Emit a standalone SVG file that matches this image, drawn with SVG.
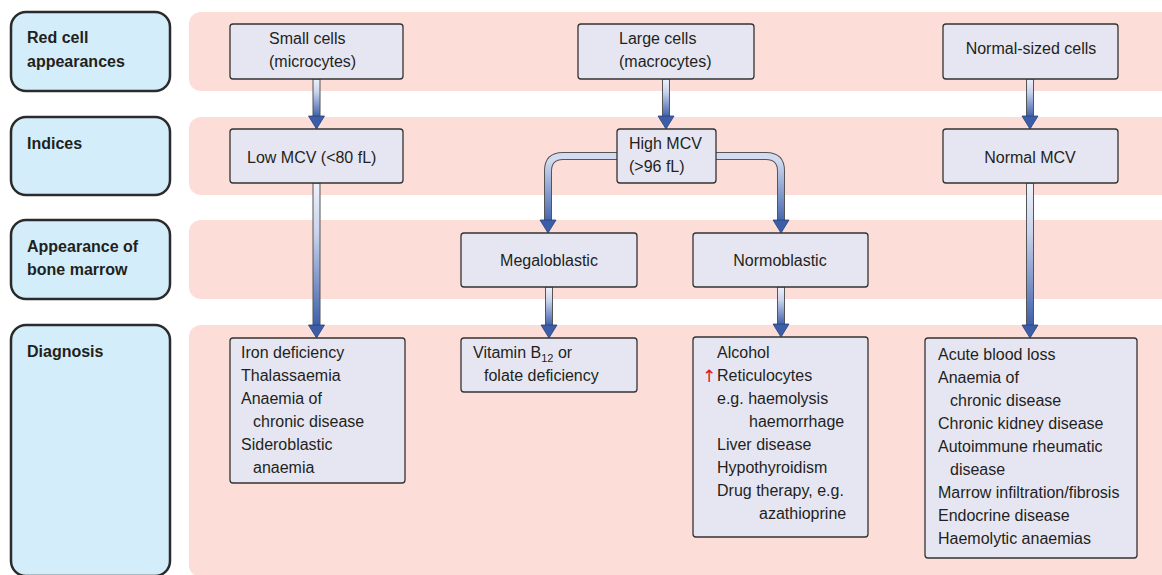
<svg xmlns="http://www.w3.org/2000/svg" xmlns:xlink="http://www.w3.org/1999/xlink" width="1162" height="575" viewBox="0 0 1162 575">
<style>
.lbl{fill:#d3eefa;stroke:#2b2b2b;stroke-width:2.5}
.band{fill:#fcddd8}
.node{fill:#e6e6f3;stroke:#333;stroke-width:1.3}
text{font-family:"Liberation Sans",Arial,sans-serif;font-size:16px;fill:#231f20}
.b{font-weight:bold}
.c{text-anchor:middle}
.shaft{fill:url(#gv);stroke:#555;stroke-width:1}
.head{fill:#3c5ea9;stroke:#27407a;stroke-width:0.8}
</style>
<defs>
<linearGradient id="gv" x1="0" y1="0" x2="0" y2="1">
<stop offset="0" stop-color="#eef1fa"/>
<stop offset="0.35" stop-color="#c9d3ec"/>
<stop offset="1" stop-color="#3c5ea9"/>
</linearGradient>
<linearGradient id="gb" gradientUnits="userSpaceOnUse" x1="0" y1="160" x2="0" y2="225">
<stop offset="0" stop-color="#d2dbf0"/>
<stop offset="1" stop-color="#3c5ea9"/>
</linearGradient>
<path id="hd" class="head" d="M-8,-13 L8,-13 L0,0 Z"/>
</defs>

<g id="bands">
<rect class="band" x="189" y="12" width="990" height="79" rx="12"/>
<rect class="band" x="189" y="117" width="990" height="78" rx="12"/>
<rect class="band" x="189" y="220" width="990" height="79" rx="12"/>
<rect class="band" x="189" y="325" width="990" height="252" rx="12"/>
</g>

<g id="label-red-cell"><rect class="lbl" x="11" y="12" width="159" height="79" rx="15"/><text class="b" x="27" y="43">Red cell</text><text class="b" x="27" y="67">appearances</text></g>
<g id="label-indices"><rect class="lbl" x="11" y="117" width="159" height="78" rx="15"/><text class="b" x="27" y="149">Indices</text></g>
<g id="label-marrow"><rect class="lbl" x="11" y="220" width="159" height="79" rx="15"/><text class="b" x="27" y="252">Appearance of</text><text class="b" x="27" y="275">bone marrow</text></g>
<g id="label-diagnosis"><rect class="lbl" x="11" y="325" width="159" height="251" rx="15"/><text class="b" x="27" y="357">Diagnosis</text></g>

<g id="connectors">
<rect class="shaft" x="313" y="79" width="7" height="38"/><use xlink:href="#hd" x="316.5" y="129"/>
<rect class="shaft" x="313" y="183" width="7" height="143"/><use xlink:href="#hd" x="316.5" y="338"/>
<rect class="shaft" x="662.5" y="79" width="7" height="38"/><use xlink:href="#hd" x="666" y="129"/>
<path d="M617,156 H563 Q548,156 548,171 V222" fill="none" stroke="#555" stroke-width="8"/>
<path d="M617,156 H563 Q548,156 548,171 V222" fill="none" stroke="url(#gb)" stroke-width="6"/>
<use xlink:href="#hd" x="548" y="233"/>
<path d="M716,156 H766 Q781,156 781,171 V222" fill="none" stroke="#555" stroke-width="8"/>
<path d="M716,156 H766 Q781,156 781,171 V222" fill="none" stroke="url(#gb)" stroke-width="6"/>
<use xlink:href="#hd" x="781" y="233"/>
<rect class="shaft" x="545.5" y="287" width="7" height="39"/><use xlink:href="#hd" x="549" y="338"/>
<rect class="shaft" x="777.5" y="287" width="7" height="38"/><use xlink:href="#hd" x="781" y="337"/>
<rect class="shaft" x="1026.5" y="79" width="7" height="38"/><use xlink:href="#hd" x="1030" y="129"/>
<rect class="shaft" x="1026.5" y="183" width="7" height="143"/><use xlink:href="#hd" x="1030" y="338"/>
</g>

<g id="small-cells"><rect class="node" x="230" y="24" width="173" height="55" rx="3"/><text x="269" y="44">Small cells</text><text x="269" y="67">(microcytes)</text></g>
<g id="large-cells"><rect class="node" x="578" y="24" width="176" height="55" rx="3"/><text x="619" y="44">Large cells</text><text x="619" y="67">(macrocytes)</text></g>
<g id="normal-cells"><rect class="node" x="943" y="24" width="175" height="55" rx="3"/><text class="c" x="1031" y="54">Normal-sized cells</text></g>

<g id="low-mcv"><rect class="node" x="230" y="129" width="173" height="54" rx="3"/><text x="247" y="163">Low MCV (&lt;80 fL)</text></g>
<g id="high-mcv"><rect class="node" x="617" y="129" width="99" height="54" rx="3"/><text x="629" y="149">High MCV</text><text x="629" y="172">(&gt;96 fL)</text></g>
<g id="normal-mcv"><rect class="node" x="943" y="129" width="175" height="54" rx="3"/><text class="c" x="1030" y="163">Normal MCV</text></g>

<g id="megaloblastic"><rect class="node" x="461" y="233" width="176" height="54" rx="3"/><text class="c" x="549" y="266">Megaloblastic</text></g>
<g id="normoblastic"><rect class="node" x="693" y="233" width="175" height="54" rx="3"/><text class="c" x="780" y="266">Normoblastic</text></g>

<g id="diag-micro"><rect class="node" x="230" y="338" width="175" height="145" rx="3"/>
<text x="241" y="358">Iron deficiency</text><text x="241" y="381">Thalassaemia</text><text x="241" y="404">Anaemia of</text><text x="253" y="427">chronic disease</text><text x="241" y="450">Sideroblastic</text><text x="253" y="473">anaemia</text></g>

<g id="diag-megalo"><rect class="node" x="461" y="338" width="176" height="54" rx="3"/>
<text x="473" y="358">Vitamin B<tspan font-size="11" dy="4">12</tspan><tspan dy="-4"> or</tspan></text><text x="484" y="381">folate deficiency</text></g>

<g id="diag-normo"><rect class="node" x="693" y="337" width="175" height="200" rx="3"/>
<text x="717" y="358">Alcohol</text>
<text x="702" y="382" style="fill:#e3141b;font-size:17px;font-family:'DejaVu Sans',sans-serif">↑</text>
<text x="717" y="381">Reticulocytes</text><text x="717" y="404">e.g. haemolysis</text><text x="749" y="427">haemorrhage</text><text x="717" y="450">Liver disease</text><text x="717" y="473">Hypothyroidism</text><text x="717" y="496">Drug therapy, e.g.</text><text x="759" y="519">azathioprine</text></g>

<g id="diag-normal"><rect class="node" x="925" y="338" width="212" height="220" rx="3"/>
<text x="938" y="360">Acute blood loss</text><text x="938" y="383">Anaemia of</text><text x="950" y="406">chronic disease</text><text x="938" y="429">Chronic kidney disease</text><text x="938" y="452">Autoimmune rheumatic</text><text x="950" y="475">disease</text><text x="938" y="498">Marrow infiltration/fibrosis</text><text x="938" y="521">Endocrine disease</text><text x="938" y="544">Haemolytic anaemias</text></g>
</svg>
